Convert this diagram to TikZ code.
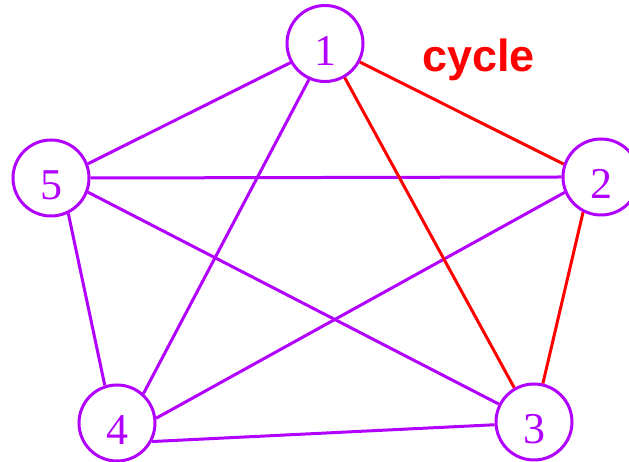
\documentclass[tikz,border=0pt]{standalone}
\usepackage{fontspec}
\setmainfont{Liberation Serif}
\newfontfamily\labelsans{Liberation Sans}
\definecolor{vertexpurple}{RGB}{178,0,255}
\definecolor{cyclered}{RGB}{255,0,0}
\begin{document}
\begin{tikzpicture}[x=1pt,y=1pt,
  vertex/.style={circle, draw=vertexpurple, line width=3pt, minimum size=76pt,
    inner sep=0pt, text=vertexpurple, font=\fontsize{44}{44}\selectfont,
    text height=44pt, text depth=0pt},
  edge/.style={draw=vertexpurple, line width=3pt},
  cycleedge/.style={draw=cyclered, line width=3pt}]
\useasboundingbox (0,0) rectangle (629,462);
\node[vertex] (v1) at (325,418.5) {1};
\node[vertex] (v2) at (601,285) {2};
\node[vertex] (v3) at (534,40) {3};
\node[vertex] (v4) at (117,39) {4};
\node[vertex] (v5) at (51,284) {5};
% remaining edges of the complete graph
\draw[edge] (v1.-151) -- (v5.21);
\draw[edge] (v1.-114) -- (v4.48);
\draw[edge] (v5.0) -- (v2.180);
\draw[edge] (v5.-64) -- (v4.108);
\draw[edge] (v5.-21) -- (v3.153);
\draw[edge] (v2.203) -- (v4.7);
\draw[edge] (v4.-28) -- (v3.184);
% the highlighted cycle
\draw[cycleedge] (v1.-28) -- (v2.161);
\draw[cycleedge] (v1.-60) -- (v3.120);
\draw[cycleedge] (v2.-117) -- (v3.77);
\node[anchor=base west, inner sep=0pt, text=cyclered,
  font=\labelsans\bfseries\fontsize{45}{45}\selectfont] (lbl) at (422,390) {cycle};
\end{tikzpicture}
\end{document}
